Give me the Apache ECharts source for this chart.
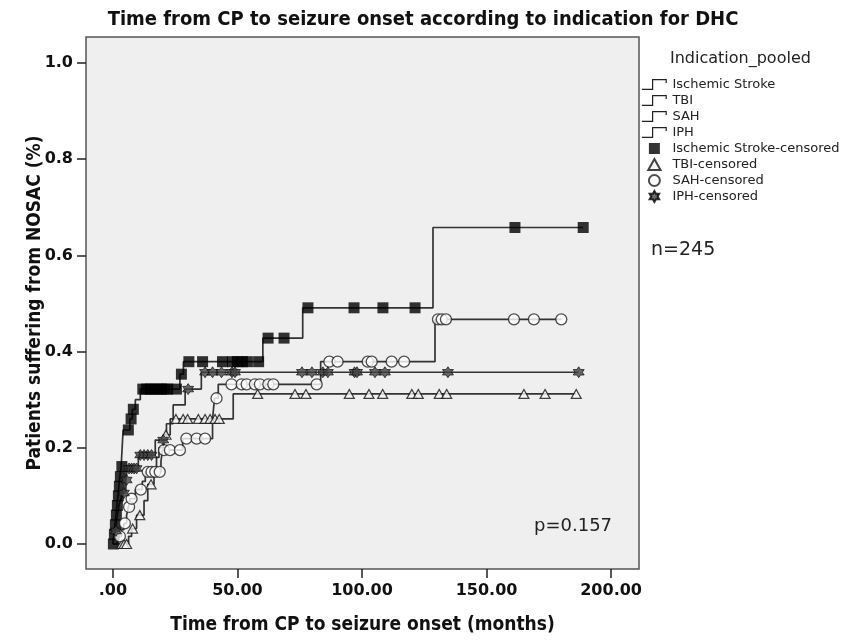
<!DOCTYPE html>
<html>
<head>
<meta charset="utf-8">
<script src="https://cdn.jsdelivr.net/npm/echarts@6/dist/echarts.min.js"></script>
<style>
html,body{margin:0;padding:0;background:#fff;}
#main{width:846px;height:640px;}
</style>
</head>
<body>
<div id="main"></div>
<script>
// event times (months) and cumulative proportion after each event
var isTime  = [0, 0.4, 0.8, 1.2, 1.6, 2.0, 2.4, 2.8, 3.3, 4.1, 6.8, 7.8, 9.0, 11.0, 26.9, 28.3, 60.2, 76.2, 128.5];
var isVal   = [0, 0.02, 0.04, 0.06, 0.08, 0.10, 0.12, 0.14, 0.161, 0.237, 0.26, 0.28, 0.30, 0.322, 0.353, 0.379, 0.428, 0.491, 0.658];
var isCens  = [0.2, 0.6, 1.0, 1.4, 1.8, 2.2, 2.6, 3.0, 3.6, 6.2, 7.3, 8.2, 12, 13.5, 15, 16.5, 18, 19.5, 21, 22, 25.5, 27.5,
               30.5, 36, 44, 48, 50, 52, 54, 58.5, 62.3, 68.7, 78.3, 96.8, 108.4, 121.3, 161.4, 188.8];

var tbiTime = [0, 6.3, 7.5, 9.5, 12.5, 14.0, 16.5, 17.5, 18.5, 20.3, 23.0, 48.3];
var tbiVal  = [0, 0.016, 0.032, 0.06, 0.09, 0.124, 0.155, 0.18, 0.20, 0.227, 0.26, 0.312];
var tbiCens = [3.6, 4.5, 5.5, 7.9, 10.8, 15.3, 21.3, 25.3, 28.2, 30, 34.3, 37, 39, 41, 42.7, 58.1, 73.1, 77.5, 94.9,
               102.8, 108.3, 120, 122.6, 131, 134, 165, 173.5, 186];

var sahTime = [0, 1.8, 3.5, 4.4, 5.5, 6.2, 7.0, 9.0, 11.8, 13.0, 19.3, 19.9, 28.0, 40.0, 40.8, 42.3, 83.4, 129.3];
var sahVal  = [0, 0.016, 0.03, 0.043, 0.06, 0.077, 0.094, 0.113, 0.13, 0.15, 0.172, 0.195, 0.219, 0.26, 0.303, 0.332, 0.379, 0.467];
var sahCens = [2.8, 4.8, 6.5, 7.5, 11.2, 14, 15.5, 17, 18.8, 20.5, 22.9, 26.9, 29.5, 33.6, 37, 41.6, 47.6, 51.7, 53.7, 57,
               59, 62.4, 64.4, 81.8, 86.9, 90.2, 102.3, 103.9, 111.9, 116.9, 130.5, 132, 133.7, 161, 169, 180];

var iphTime = [0, 0.8, 1.6, 2.4, 3.2, 4.0, 5.2, 5.8, 10.2, 17.0, 21.5, 24.2, 29.0, 35.5];
var iphVal  = [0, 0.027, 0.053, 0.08, 0.093, 0.106, 0.133, 0.157, 0.185, 0.216, 0.25, 0.289, 0.322, 0.357];
var iphCens = [1.2, 4.4, 5.5, 6.5, 7.5, 8.5, 9.5, 11, 12.5, 14, 15.5, 20.2, 30.2, 37, 40, 43.6, 47.8, 49, 75.9, 79.9,
               84.3, 86.3, 97, 98, 105.2, 109.2, 134.5, 187];

var xTicks = [0, 50, 100, 150, 200];
var yTicks = [0, 0.2, 0.4, 0.6, 0.8, 1.0];

function levelAt(times, vals, t){
    var v = 0;
    for (var i = 0; i < times.length; i++) { if (times[i] <= t) v = vals[i]; }
    return v;
}
function stepData(times, vals, cens){
    var d = [];
    for (var i = 0; i < times.length; i++) d.push([times[i], vals[i]]);
    d.push([Math.max.apply(null, cens), vals[vals.length - 1]]);
    return d;
}
function censData(times, vals, cens){
    return cens.map(function(t){ return [t, levelAt(times, vals, t)]; });
}

var stepIcon = 'path://M0,9.8L10,9.8L10,0L24.8,0L24.8,4L23.6,4L23.6,1.2L11.2,1.2L11.2,11L0,11Z';
var starPath = 'path://M0,-10L2.9,-5L8.66,-5L5.8,0L8.66,5L2.9,5L0,10L-2.9,5L-8.66,5L-5.8,0L-8.66,-5L-2.9,-5Z';
var lineCol = '#333';
var narrow = "'Liberation Sans Narrow','DejaVu Sans Condensed',sans-serif";

function lineSeries(name, t, v, c){
    return {
        name: name, type: 'line', step: 'end', showSymbol: false, symbol: 'none',
        data: stepData(t, v, c), color: '#222',
        lineStyle: {color: lineCol, width: 1.7}, itemStyle: {color: '#222'}, z: 2
    };
}

var myChart = echarts.init(document.getElementById('main'));
var option = {
    animation: false,
    backgroundColor: '#fff',
    title: [
        {
            text: 'Time from CP to seizure onset according to indication for DHC',
            left: 'center', top: 5,
            textStyle: {fontFamily: narrow, fontSize: 20, fontWeight: 'bold', color: '#111'}
        },
        {
            text: 'Indication_pooled', left: 665, top: 46,
            textStyle: {fontFamily: 'DejaVu Sans', fontSize: 16, fontWeight: 'normal', color: '#222'}
        }
    ],
    legend: {
        orient: 'vertical', left: 637, top: 73,
        itemWidth: 26, itemHeight: 11, itemGap: 3,
        symbolKeepAspect: true,
        selectedMode: false,
        textStyle: {fontFamily: 'DejaVu Sans', fontSize: 13, color: '#222'},
        data: [
            {name: 'Ischemic Stroke', icon: stepIcon},
            {name: 'TBI', icon: stepIcon},
            {name: 'SAH', icon: stepIcon},
            {name: 'IPH', icon: stepIcon},
            {name: 'Ischemic Stroke-censored', icon: 'path://M0,0L10,0L10,10L0,10Z'},
            {name: 'TBI-censored', icon: 'path://M5,0L10,9L0,9Z'},
            {name: 'SAH-censored', icon: 'circle'},
            {name: 'IPH-censored', icon: starPath}
        ]
    },
    grid: {
        left: 86, right: 207, top: 37, bottom: 67,
        show: true, backgroundColor: '#efefef', borderColor: '#555', borderWidth: 1.5
    },
    xAxis: {
        type: 'value', min: -10.8, max: 211.2,
        splitLine: {show: false},
        axisLine: {show: false, onZero: false},
        axisTick: {show: true, customValues: xTicks, length: 9, lineStyle: {color: '#222', width: 1.5}},
        axisLabel: {
            customValues: xTicks, margin: 14,
            formatter: function(v){ return v === 0 ? '.00' : v.toFixed(2); },
            fontFamily: 'DejaVu Sans', fontSize: 16, fontWeight: 'bold', color: '#111'
        },
        name: 'Time from CP to seizure onset (months)',
        nameLocation: 'middle', nameGap: 47,
        nameTextStyle: {fontFamily: narrow, fontSize: 19, fontWeight: 'bold', color: '#111'}
    },
    yAxis: {
        type: 'value', min: -0.052, max: 1.054,
        splitLine: {show: false},
        axisLine: {show: false, onZero: false},
        axisTick: {show: true, customValues: yTicks, length: 9, lineStyle: {color: '#222', width: 1.5}},
        axisLabel: {
            customValues: yTicks, margin: 13,
            formatter: function(v){ return v.toFixed(1); },
            fontFamily: 'DejaVu Sans', fontSize: 16, fontWeight: 'bold', color: '#111'
        },
        name: 'Patients suffering from NOSAC (%)',
        nameLocation: 'middle', nameGap: 41, nameRotate: 90, nameMoveOverlap: false,
        nameTextStyle: {fontFamily: narrow, fontSize: 19, fontWeight: 'bold', color: '#111'}
    },
    graphic: [
        {type: 'text', left: 651, top: 241,
         style: {text: 'n=245', font: '19px "DejaVu Sans"', fill: '#222'}},
        {type: 'text', left: 534, top: 517,
         style: {text: 'p=0.157', font: '18px "DejaVu Sans"', fill: '#222'}}
    ],
    series: [
        lineSeries('Ischemic Stroke', isTime, isVal, isCens),
        lineSeries('TBI', tbiTime, tbiVal, tbiCens),
        lineSeries('SAH', sahTime, sahVal, sahCens),
        lineSeries('IPH', iphTime, iphVal, iphCens),
        {
            name: 'Ischemic Stroke-censored', type: 'scatter', symbol: 'rect', symbolSize: 11,
            data: censData(isTime, isVal, isCens), itemStyle: {color: '#000'}, z: 4
        },
        {
            name: 'TBI-censored', type: 'scatter', symbol: 'triangle', symbolSize: [10, 9],
            data: censData(tbiTime, tbiVal, tbiCens),
            itemStyle: {color: '#f6f6f6', borderColor: '#111', borderWidth: 1.2}, z: 4
        },
        {
            name: 'SAH-censored', type: 'scatter', symbol: 'circle', symbolSize: 11,
            data: censData(sahTime, sahVal, sahCens),
            itemStyle: {color: '#fff', borderColor: '#222', borderWidth: 1.3}, z: 4
        },
        {
            name: 'IPH-censored', type: 'scatter', symbol: starPath, symbolSize: 11,
            data: censData(iphTime, iphVal, iphCens),
            itemStyle: {color: '#444', borderColor: '#000', borderWidth: 0.8}, z: 4
        }
    ]
};
myChart.setOption(option);
</script>
</body>
</html>
